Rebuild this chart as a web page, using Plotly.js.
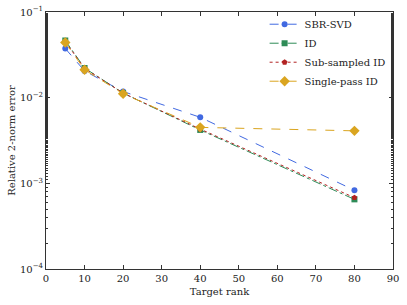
<!DOCTYPE html>
<html>
<head>
<meta charset="utf-8">
<script src="https://cdn.plot.ly/plotly-3.0.1.min.js"></script>
<style>html,body{margin:0;padding:0;background:#fff;}#plot{width:407px;height:305px;}</style>
</head>
<body>
<div id="plot"></div>
<script>
var ranks = [5, 10, 20, 40, 80];
var sbrSvd = [0.0375, 0.0205, 0.0118, 0.0059, 0.00083];
var idErr = [0.0465, 0.0222, 0.0113, 0.0042, 0.00065];
var subSampledId = [0.0450, 0.0220, 0.0113, 0.0043, 0.00068];
var singlePassId = [0.0440, 0.0212, 0.0111, 0.0045, 0.0041];
var yTickVals = [1e-4, 1e-3, 1e-2, 1e-1];
var yTickText = ['10<sup>−4</sup>', '10<sup>−3</sup>', '10<sup>−2</sup>', '10<sup>−1</sup>'];
var xTickVals = [0, 10, 20, 30, 40, 50, 60, 70, 80, 90];

var fam = '"DejaVu Serif", serif';
var font = {family: fam, size: 10, color: '#222'};

function trace(name, y, color, dash, symbol, msize) {
  return {x: ranks, y: y, name: name, type: 'scatter', mode: 'lines+markers',
    line: {color: color, width: 1, dash: dash},
    marker: {color: color, symbol: symbol, size: msize}};
}

var data = [
  trace('SBR-SVD', sbrSvd, '#4169E1', 'dash', 'circle', 6),
  trace('ID', idErr, '#2E8B57', 'dashdot', 'square', 6),
  trace('Sub-sampled ID', subSampledId, '#B22222', 'dot', 'pentagon', 6),
  trace('Single-pass ID', singlePassId, '#DAA520', 'dash', 'diamond', 8)
];

var layout = {
  width: 407, height: 305,
  margin: {l: 46, r: 14, t: 11, b: 36},
  paper_bgcolor: '#fff', plot_bgcolor: '#fff',
  font: font,
  showlegend: true,
  legend: {x: 0.63, y: 1.005, xanchor: 'left', yanchor: 'top', bgcolor: 'rgba(255,255,255,0)',
    font: {family: fam, size: 10, color: '#222'}, tracegroupgap: 0},
  xaxis: {range: [0, 90], tickvals: xTickVals, ticks: 'inside', ticklen: 4, tickcolor: '#333',
    showline: true, linecolor: '#333', linewidth: 1, mirror: 'ticks', showgrid: false, zeroline: false,
    title: {text: 'Target rank', font: {family: fam, size: 10, color: '#222'}, standoff: 4},
    tickfont: {family: fam, size: 10, color: '#222'}},
  yaxis: {type: 'log', range: [-4, -1], tickvals: yTickVals, ticktext: yTickText, ticks: 'inside', ticklen: 4,
    tickcolor: '#333', showline: true, linecolor: '#333', linewidth: 1, mirror: 'ticks', showgrid: false,
    zeroline: false,
    minor: {ticks: 'inside', ticklen: 2, tickcolor: '#333', showgrid: false},
    title: {text: 'Relative 2-norm error', font: {family: fam, size: 10, color: '#222'}, standoff: 2},
    tickfont: {family: fam, size: 10, color: '#222'}}
};

Plotly.newPlot('plot', data, layout, {displayModeBar: false, staticPlot: true});
</script>
</body>
</html>
